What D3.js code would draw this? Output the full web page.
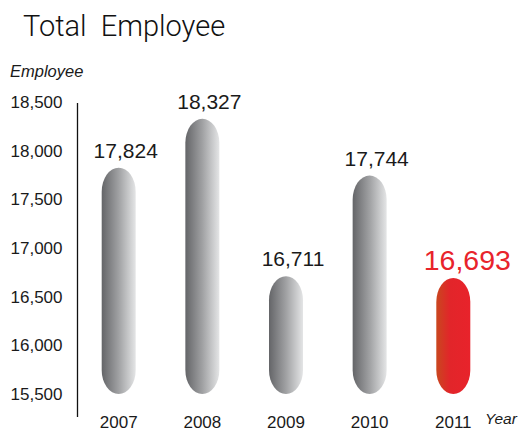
<!DOCTYPE html>
<html>
<head>
<meta charset="utf-8">
<script src="https://cdn.jsdelivr.net/npm/d3@7"></script>
<style>
  html, body { margin: 0; padding: 0; background: #fff; }
  svg { display: block; }
  text { font-family: "Liberation Sans", Arial, sans-serif; fill: #1a1a1a; }
</style>
</head>
<body>
<svg id="chart" width="519" height="430"></svg>
<script>
// Headcount per year
const years = ["2007", "2008", "2009", "2010", "2011"];
const employees = [17824, 18327, 16711, 17744, 16693];
const tickValues = [15500, 16000, 16500, 17000, 17500, 18000, 18500];
const highlightYear = "2011";

const svg = d3.select("#chart");
const fmt = d3.format(",");

const y = d3.scaleLinear().domain([15500, 18500]).range([394, 102]);
const x = d3.scalePoint().domain(years).range([118.7, 453.3]);
const barW = 34;

// Gradients
const defs = svg.append("defs");
const grey = defs.append("linearGradient").attr("id", "gGrey")
  .attr("x1", "0%").attr("x2", "100%").attr("y1", "0%").attr("y2", "0%");
grey.append("stop").attr("offset", "0%").attr("stop-color", "#646568");
grey.append("stop").attr("offset", "50%").attr("stop-color", "#a0a1a3");
grey.append("stop").attr("offset", "100%").attr("stop-color", "#e4e5e6");

const red = defs.append("linearGradient").attr("id", "gRed")
  .attr("x1", "0%").attr("x2", "100%").attr("y1", "0%").attr("y2", "0%");
red.append("stop").attr("offset", "0%").attr("stop-color", "#c9471f");
red.append("stop").attr("offset", "40%").attr("stop-color", "#e2252a");
red.append("stop").attr("offset", "100%").attr("stop-color", "#e8232b");

// Title
svg.append("text")
  .attr("x", 23).attr("y", 36)
  .attr("xml:space", "preserve")
  .style("white-space", "pre")
  .style("font-family", "Roboto, 'Liberation Sans', sans-serif")
  .style("font-weight", 300)
  .style("font-size", "29px")
  .style("fill", "#111")
  .text("Total  Employee");

// Axis title
svg.append("text")
  .attr("x", 10).attr("y", 77)
  .style("font-style", "italic")
  .style("font-size", "16.5px")
  .text("Employee");

// Y axis
const axis = svg.append("g")
  .attr("transform", "translate(77.5,0)")
  .call(d3.axisLeft(y).tickValues(tickValues).tickSize(0).tickPadding(15).tickFormat(fmt));
axis.select(".domain")
  .attr("d", `M0,${y(18500) + 1}V417`)
  .attr("stroke", "#111").attr("stroke-width", 1.3);
axis.selectAll(".tick text")
  .style("font-family", "'Liberation Sans', Arial, sans-serif")
  .style("font-size", "17px")
  .style("fill", "#1a1a1a");

// Bars (pill shapes)
const data = years.map((yr, i) => ({ year: yr, value: employees[i] }));

svg.append("g").selectAll("rect")
  .data(data)
  .join("rect")
  .attr("x", d => x(d.year) - barW / 2)
  .attr("width", barW)
  .attr("y", d => y(d.value))
  .attr("height", d => y(15500) - y(d.value))
  .attr("rx", barW / 2)
  .attr("ry", 24)
  .attr("fill", d => d.year === highlightYear ? "url(#gRed)" : "url(#gGrey)");

// Value labels
svg.append("g").selectAll("text")
  .data(data)
  .join("text")
  .attr("x", d => x(d.year) + (d.year === highlightYear ? 14 : 7))
  .attr("y", d => y(d.value) - (d.year === highlightYear ? 8 : 10))
  .attr("text-anchor", "middle")
  .style("font-size", d => d.year === highlightYear ? "28.5px" : "21px")
  .style("fill", d => d.year === highlightYear ? "#e8232b" : "#1a1a1a")
  .text(d => fmt(d.value));

// X labels
svg.append("g").selectAll("text")
  .data(years)
  .join("text")
  .attr("x", d => x(d))
  .attr("y", 427.5)
  .attr("text-anchor", "middle")
  .style("font-size", "17px")
  .text(d => d);

svg.append("text")
  .attr("x", 485).attr("y", 424)
  .style("font-style", "italic")
  .style("font-size", "15.5px")
  .text("Year");
</script>
</body>
</html>
